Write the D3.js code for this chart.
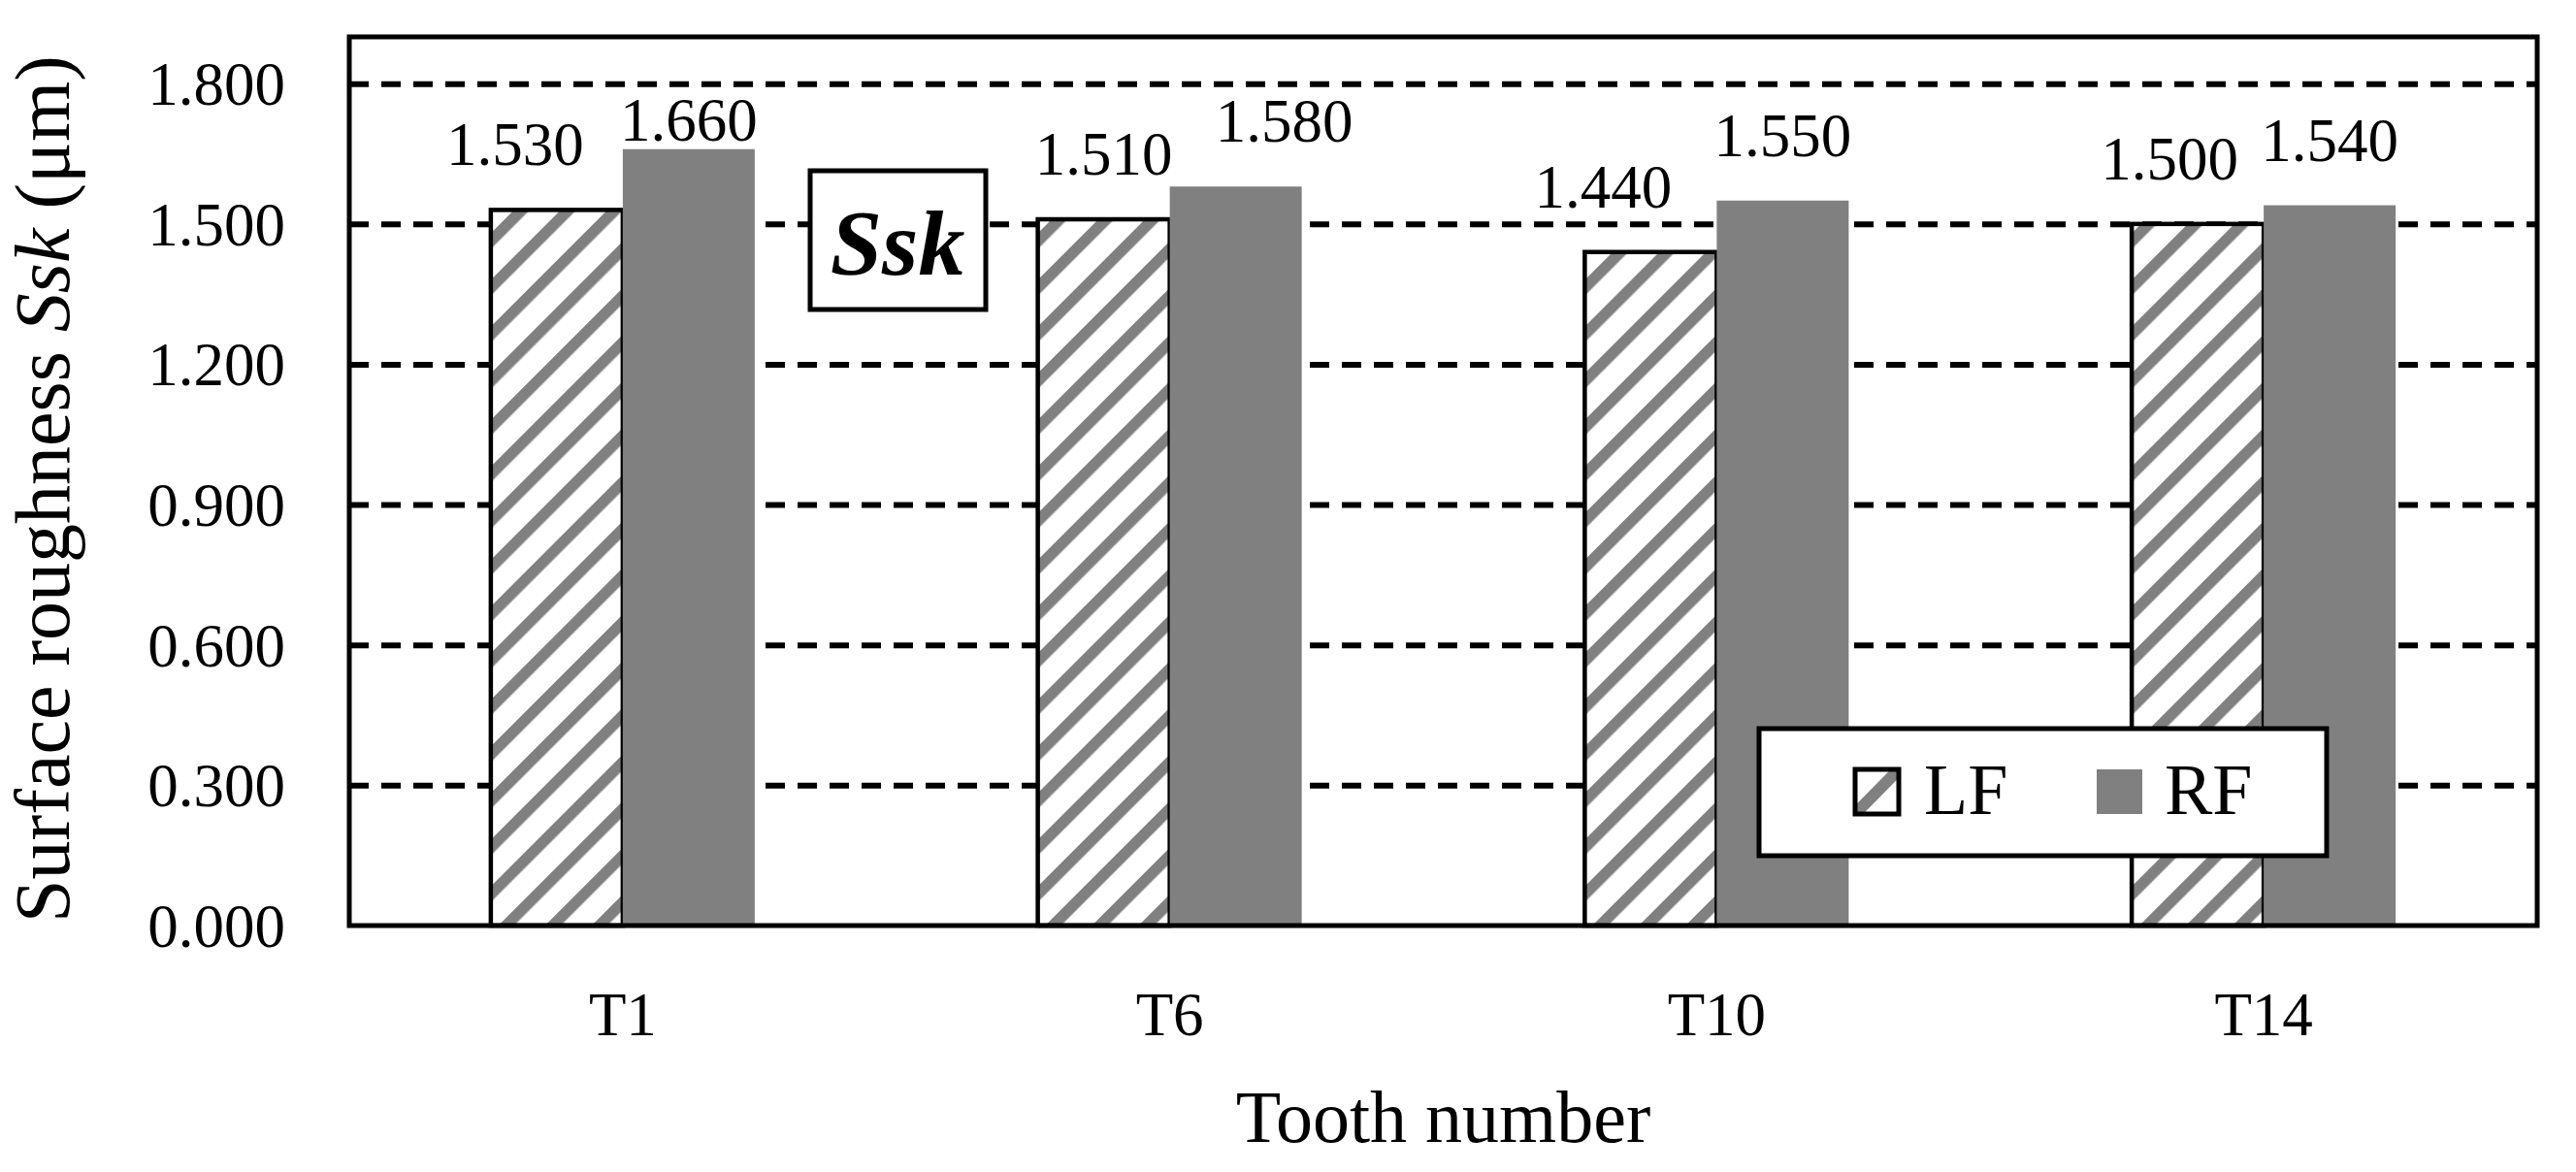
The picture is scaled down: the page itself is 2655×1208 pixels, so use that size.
<!DOCTYPE html>
<html>
<head>
<meta charset="utf-8">
<script src="https://cdn.jsdelivr.net/npm/d3@7"></script>
<style>
  body { margin: 0; background: #fff; }
  svg text { font-family: "Liberation Serif", "Times New Roman", serif; fill: #000; }
</style>
</head>
<body>
<svg id="chart" width="2655" height="1208"></svg>
<script>
// chart data
var categories = ["T1", "T6", "T10", "T14"];
var seriesNames = ["LF", "RF"];
var lfValues = [1.530, 1.510, 1.440, 1.500];
var rfValues = [1.660, 1.580, 1.550, 1.540];
var yTicks = [0, 0.3, 0.6, 0.9, 1.2, 1.5, 1.8];

var svg = d3.select("#chart");
var gray = "#808080";

// plot area ("top" is taken by window.top, so prefix everything)
var plotLeft = 360, plotRight = 2615, plotTop = 38, plotBottom = 954;

var x0 = d3.scaleBand()
  .domain(categories)
  .range([plotLeft, plotRight])
  .paddingInner(0.5175)
  .paddingOuter(0.5175 / 2);

var x1 = d3.scaleBand()
  .domain(seriesNames)
  .range([0, x0.bandwidth()]);

var y = d3.scaleLinear()
  .domain([0, 1.9])
  .range([plotBottom, plotTop]);

// hatch pattern for LF bars
var defs = svg.append("defs");
var hatch = defs.append("pattern")
  .attr("id", "hatch")
  .attr("patternUnits", "userSpaceOnUse")
  .attr("width", 34)
  .attr("height", 34)
  .attr("patternTransform", "rotate(45)");
hatch.append("rect").attr("width", 34).attr("height", 34).attr("fill", "#fff");
hatch.append("rect").attr("width", 11.5).attr("height", 34).attr("fill", gray);

// dashed gridlines
svg.append("g")
  .attr("transform", "translate(" + plotLeft + ",0)")
  .call(d3.axisLeft(y).tickValues(yTicks.filter(function(d) { return d > 0; }))
    .tickSize(-(plotRight - plotLeft)).tickFormat(""))
  .call(function(g) {
    g.select(".domain").remove();
    g.selectAll("line")
      .attr("stroke", "#000")
      .attr("stroke-width", 6)
      .attr("stroke-dasharray", "20,13");
  });

// y tick labels
svg.append("g")
  .attr("transform", "translate(" + plotLeft + ",0)")
  .call(d3.axisLeft(y).tickValues(yTicks).tickSize(0).tickPadding(66).tickFormat(d3.format(".3f")))
  .call(function(g) {
    g.select(".domain").remove();
    g.selectAll("text")
      .attr("font-size", 63)
      .attr("font-family", "Liberation Serif")
      .attr("dy", "0.34em");
  });

// x tick labels
svg.append("g")
  .attr("transform", "translate(0," + plotBottom + ")")
  .call(d3.axisBottom(x0).tickSize(0).tickPadding(0))
  .call(function(g) {
    g.select(".domain").remove();
    g.selectAll("text")
      .attr("font-size", 63)
      .attr("font-family", "Liberation Serif")
      .attr("y", 113)
      .attr("dy", 0);
  });

var rows = categories.map(function(c, i) {
  return { cat: c, LF: lfValues[i], RF: rfValues[i] };
});

// bars
var groups = svg.append("g").selectAll("g")
  .data(rows)
  .join("g")
  .attr("transform", function(d) { return "translate(" + x0(d.cat) + ",0)"; });

groups.selectAll("rect")
  .data(function(d) { return seriesNames.map(function(s) { return { key: s, value: d[s] }; }); })
  .join("rect")
  .attr("x", function(d) { return x1(d.key); })
  .attr("y", function(d) { return y(d.value); })
  .attr("width", x1.bandwidth())
  .attr("height", function(d) { return y(0) - y(d.value); })
  .attr("fill", function(d) { return d.key === "LF" ? "url(#hatch)" : gray; })
  .attr("stroke", function(d) { return d.key === "LF" ? "#000" : "none"; })
  .attr("stroke-width", 4.5);

// value labels (a few were moved by hand in the original)
var shift = {
  LF: [[-43, 0], [0, 0], [-49, 0], [-29, 0]],
  RF: [[0, 37], [50, 0], [0, 0], [0, 0]]
};
groups.each(function(d, i) {
  var g = d3.select(this);
  seriesNames.forEach(function(s) {
    g.append("text")
      .attr("x", x1(s) + x1.bandwidth() / 2 + shift[s][i][0])
      .attr("y", y(d[s]) - 46 + shift[s][i][1])
      .attr("text-anchor", "middle")
      .attr("font-size", 63)
      .text(d3.format(".3f")(d[s]));
  });
});

// plot frame
svg.append("rect")
  .attr("x", plotLeft).attr("y", plotTop)
  .attr("width", plotRight - plotLeft).attr("height", plotBottom - plotTop)
  .attr("fill", "none")
  .attr("stroke", "#000")
  .attr("stroke-width", 5);

// Ssk box
svg.append("rect")
  .attr("x", 835).attr("y", 176)
  .attr("width", 181).attr("height", 143)
  .attr("fill", "#fff").attr("stroke", "#000").attr("stroke-width", 5);
svg.append("text")
  .attr("x", 925).attr("y", 283)
  .attr("text-anchor", "middle")
  .attr("font-size", 96)
  .attr("font-weight", "bold")
  .attr("font-style", "italic")
  .text("Ssk");

// legend
var legend = svg.append("g");
legend.append("rect")
  .attr("x", 1813).attr("y", 751)
  .attr("width", 585).attr("height", 131)
  .attr("fill", "#fff").attr("stroke", "#000").attr("stroke-width", 5);

defs.append("clipPath").attr("id", "swatchClip")
  .append("rect").attr("x", 1912).attr("y", 793).attr("width", 45).attr("height", 46);
legend.append("rect")
  .attr("x", 1912).attr("y", 793).attr("width", 45).attr("height", 46)
  .attr("fill", "#fff");
legend.append("line")
  .attr("x1", 1905).attr("y1", 846).attr("x2", 1964).attr("y2", 786)
  .attr("stroke", gray).attr("stroke-width", 12)
  .attr("clip-path", "url(#swatchClip)");
legend.append("rect")
  .attr("x", 1912).attr("y", 793).attr("width", 45).attr("height", 46)
  .attr("fill", "none").attr("stroke", "#000").attr("stroke-width", 5);
legend.append("text")
  .attr("x", 1983).attr("y", 839)
  .attr("font-size", 74)
  .text("LF");

legend.append("rect")
  .attr("x", 2161).attr("y", 793).attr("width", 47).attr("height", 46)
  .attr("fill", gray);
legend.append("text")
  .attr("x", 2231).attr("y", 839)
  .attr("font-size", 74)
  .text("RF");

// axis titles
var yTitle = svg.append("text")
  .attr("transform", "translate(71,504) rotate(-90)")
  .attr("text-anchor", "middle")
  .attr("font-size", 80);
yTitle.append("tspan").text("Surface roughness ");
yTitle.append("tspan").attr("font-style", "italic").text("Ssk");
yTitle.append("tspan").text(" (μm)");

svg.append("text")
  .attr("x", (plotLeft + plotRight) / 2)
  .attr("y", 1177)
  .attr("text-anchor", "middle")
  .attr("font-size", 76)
  .text("Tooth number");
</script>
</body>
</html>
